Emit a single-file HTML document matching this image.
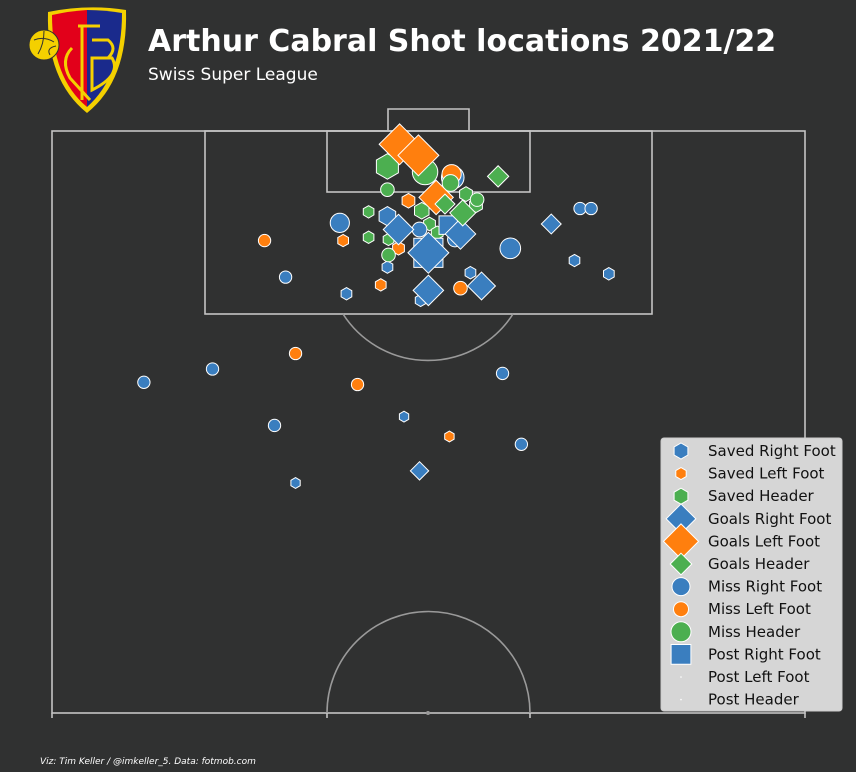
<!DOCTYPE html>
<html><head><meta charset="utf-8">
<style>
body{margin:0;background:#303131;width:856px;height:772px;overflow:hidden;font-family:"DejaVu Sans","Liberation Sans",sans-serif;}
svg{display:block}
</style></head>
<body>
<svg id="chart" width="856" height="772">
  <rect x="0" y="0" width="856" height="772" fill="#303131"/>
  <g>
    <path d="M48,12 Q88,4 126,10 Q128,80 87,113 Q46,80 48,12Z" fill="#f4d000"/>
    <path d="M52,15 Q70,11 87,10 L87,107 Q52,78 52,15Z" fill="#e2001a"/>
    <path d="M87,10 Q105,10 122,13 Q122,76 87,107Z" fill="#1a2a8c"/>
    <path d="M78,26 H100 M82,26 V100 M92,40 H108 Q118,48 108,58 H92 M92,58 H112 Q122,75 92,90 Z" stroke="#f4d000" stroke-width="3" fill="none"/>
    <path d="M72,48 Q60,60 70,78 L90,100" stroke="#f4d000" stroke-width="3" fill="none"/>
    <circle cx="44" cy="45" r="15" fill="#f4d000" stroke="#303131" stroke-width="1"/>
    <path d="M34,40 Q44,36 54,42 M38,54 Q44,44 44,31 M50,55 Q46,48 56,46" stroke="#303131" stroke-width="1" fill="none"/>
  </g>
  <text x="148" y="51" fill="#ffffff" font-size="30" font-weight="bold">Arthur Cabral Shot locations 2021/22</text>
  <text x="148" y="80" fill="#ffffff" font-size="17">Swiss Super League</text>
  <text x="40" y="764" fill="#ffffff" font-size="9" font-style="italic">Viz: Tim Keller / @imkeller_5. Data: fotmob.com</text>
  <g id="pitch" fill="none" stroke="#c4c4c4" stroke-width="1.6">
    <rect x="52" y="131" width="753" height="582"/>
    <rect x="205" y="131" width="447" height="183"/>
    <rect x="327" y="131" width="203" height="61"/>
    <polyline points="388,131 388,109 469,109 469,131"/>
    <path d="M343,314 A101,101 0 0 0 513,314" stroke="#9a9a9a"/>
    <path d="M327,713 A101,101 0 0 1 530,713" stroke="#9a9a9a"/>
    <line x1="52" y1="713" x2="52" y2="718"/><line x1="805" y1="713" x2="805" y2="718"/>
    <line x1="327" y1="713" x2="327" y2="718"/><line x1="530" y1="713" x2="530" y2="718"/>
    <circle cx="428" cy="713" r="2" fill="#9a9a9a" stroke="none"/>
  </g>
  <g id="marks"></g>
  <g id="legend"></g>
</svg>
<script>
// data in metres: x across pitch (0-68), y distance from goal line; xg for marker size
const savedRightX=[26.6,30.3,37.8,33.3,47.2,50.3,31.8,22.0,30.3];
const savedRightY=[14.7,12.3,12.8,15.3,11.7,12.9,25.8,31.8,7.7];
const savedRightXg=[0.03,0.03,0.03,0.03,0.03,0.03,0.02,0.02,0.1];
const savedLeftX=[26.3,29.7,31.3,32.2,35.9];
const savedLeftY=[9.9,13.9,10.6,6.3,27.6];
const savedLeftXg=[0.03,0.03,0.04,0.05,0.02];
const savedHeadX=[30.3,28.6,28.6,33.4,34.1,34.8,37.4,38.3,30.4];
const savedHeadY=[3.2,7.3,9.6,7.2,8.4,9.2,5.7,6.7,9.8];
const savedHeadXg=[0.2,0.03,0.03,0.07,0.04,0.04,0.05,0.05,0.03];
const goalRightX=[31.3,36.9,34.0,34.0,38.8,45.1,33.2];
const goalRightY=[8.9,9.3,11.0,14.4,14.0,8.4,30.7];
const goalRightXg=[0.15,0.15,0.3,0.15,0.12,0.05,0.04];
const goalLeftX=[31.4,33.1,34.7];
const goalLeftY=[1.2,2.2,6.0];
const goalLeftXg=[0.3,0.3,0.2];
const goalHeadX=[40.3,35.5,37.1];
const goalHeadY=[4.1,6.6,7.4];
const goalHeadXg=[0.06,0.05,0.1];
const missRightX=[8.3,14.5,20.1,21.1,26.0,41.4,47.7,48.7,40.7,42.4,36.2,33.2,36.4];
const missRightY=[22.7,21.5,26.6,13.2,8.3,10.6,7.0,7.0,21.9,28.3,4.2,8.9,9.8];
const missRightXg=[0.03,0.03,0.03,0.03,0.1,0.12,0.03,0.03,0.03,0.03,0.15,0.05,0.05];
const missLeftX=[19.2,22.0,27.6,36.9,36.1];
const missLeftY=[9.9,20.1,22.9,14.2,3.9];
const missLeftXg=[0.03,0.03,0.03,0.04,0.1];
const missHeadX=[33.7,30.3,30.4,36.0,38.4];
const missHeadY=[3.7,5.3,11.2,4.7,6.2];
const missHeadXg=[0.2,0.04,0.04,0.07,0.04];
const postRightX=[34.0,35.8];
const postRightY=[11.0,8.5];
const postRightXg=[0.35,0.12];

const sx=m=>52+m*11.07, sy=m=>131+m*11.07;
const rad=xg=>2+Math.sqrt(xg)*24;
const BLUE='#3a7ebf',ORANGE='#ff7f0e',GREEN='#4caf50';
const NS='http://www.w3.org/2000/svg';
function shape(kind,cx,cy,r,color){
  let el;
  if(kind==='circle'){el=document.createElementNS(NS,'circle');el.setAttribute('cx',cx);el.setAttribute('cy',cy);el.setAttribute('r',r);}
  else{
    el=document.createElementNS(NS,'polygon');let pts=[];
    if(kind==='hex'){for(let i=0;i<6;i++){const a=Math.PI/3*i-Math.PI/2;pts.push((cx+r*Math.cos(a)).toFixed(1)+','+(cy+r*Math.sin(a)).toFixed(1));}}
    else if(kind==='diamond'){const d=r*1.35;pts=[cx+','+(cy-d),(cx+d)+','+cy,cx+','+(cy+d),(cx-d)+','+cy];}
    else {const d=r*0.9;pts=[(cx-d)+','+(cy-d),(cx+d)+','+(cy-d),(cx+d)+','+(cy+d),(cx-d)+','+(cy+d)];}
    el.setAttribute('points',pts.join(' '));
  }
  el.setAttribute('fill',color);el.setAttribute('stroke','#ffffff');el.setAttribute('stroke-width','1');
  return el;
}
const series=[
 ['saved-right-foot','hex',BLUE,savedRightX,savedRightY,savedRightXg],
 ['saved-left-foot','hex',ORANGE,savedLeftX,savedLeftY,savedLeftXg],
 ['saved-header','hex',GREEN,savedHeadX,savedHeadY,savedHeadXg],
 ['miss-right-foot','circle',BLUE,missRightX,missRightY,missRightXg],
 ['miss-left-foot','circle',ORANGE,missLeftX,missLeftY,missLeftXg],
 ['miss-header','circle',GREEN,missHeadX,missHeadY,missHeadXg],
 ['post-right-foot','square',BLUE,postRightX,postRightY,postRightXg],
 ['goal-right-foot','diamond',BLUE,goalRightX,goalRightY,goalRightXg],
 ['goal-left-foot','diamond',ORANGE,goalLeftX,goalLeftY,goalLeftXg],
 ['goal-header','diamond',GREEN,goalHeadX,goalHeadY,goalHeadXg]
];
const marks=document.getElementById('marks');
series.forEach(s=>{
  s[3].forEach((x,i)=>{
    const el=shape(s[1],sx(x),sy(s[4][i]),rad(s[5][i]),s[2]);
    
    
    marks.appendChild(el);
  });
});
// legend
const legendLabels=['Saved Right Foot','Saved Left Foot','Saved Header','Goals Right Foot','Goals Left Foot','Goals Header','Miss Right Foot','Miss Left Foot','Miss Header','Post Right Foot','Post Left Foot','Post Header'];
const legendKinds=['hex','hex','hex','diamond','diamond','diamond','circle','circle','circle','square','dot','dot'];
const legendColors=[BLUE,ORANGE,GREEN,BLUE,ORANGE,GREEN,BLUE,ORANGE,GREEN,BLUE,'#fff','#fff'];
const legendSizes=[8,6,8,11,13,8,9,7.5,10,11,1,1];
const lg=document.getElementById('legend');
const box=document.createElementNS(NS,'rect');
box.setAttribute('x',661);box.setAttribute('y',438);box.setAttribute('width',181);box.setAttribute('height',273);box.setAttribute('rx',3);
box.setAttribute('fill','#d6d6d6');box.setAttribute('stroke','#cccccc');


lg.appendChild(box);
legendLabels.forEach((lab,i)=>{
  const y=451+i*22.6;
  const k=legendKinds[i];
  let m;
  if(k==='dot'){m=document.createElementNS(NS,'circle');m.setAttribute('cx',681);m.setAttribute('cy',y);m.setAttribute('r',0.8);m.setAttribute('fill','#fff');}
  else {m=shape(k,681,y,legendSizes[i],legendColors[i]);}
  
  
  lg.appendChild(m);
  const t=document.createElementNS(NS,'text');
  t.setAttribute('x',708);t.setAttribute('y',y+5);t.setAttribute('font-size','15');t.setAttribute('fill','#111');
  t.textContent=lab;
  
  
  lg.appendChild(t);
});
</script>
</body></html>
